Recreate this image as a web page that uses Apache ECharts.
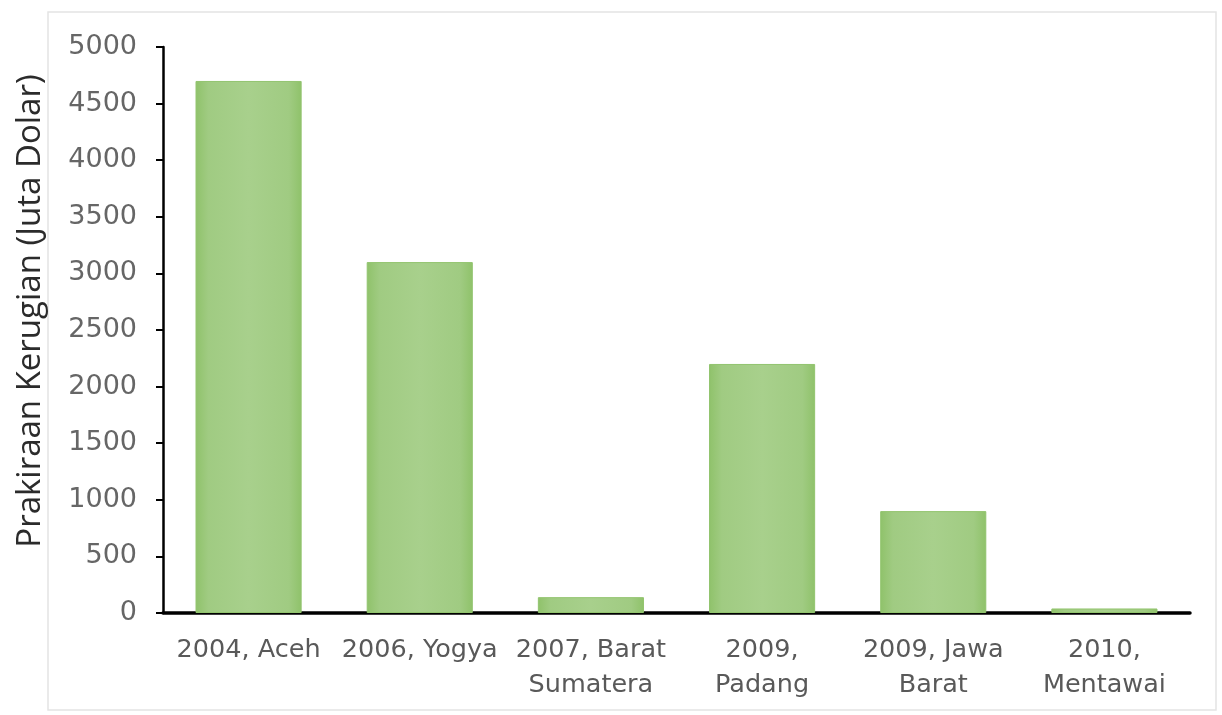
<!DOCTYPE html>
<html>
<head>
<meta charset="utf-8">
<script src="https://cdn.jsdelivr.net/npm/echarts@6/dist/echarts.min.js"></script>
<style>html,body{margin:0;padding:0;background:#fff;}#c{width:1222px;height:715px;}</style>
</head>
<body>
<div id="c"></div>
<script>
const categories = ['2004, Aceh', '2006, Yogya', '2007, Barat\nSumatera', '2009,\nPadang', '2009, Jawa\nBarat', '2010,\nMentawai'];
const lossValues = [4700, 3100, 140, 2200, 900, 40];
const yTicks = { min: 0, max: 5000, interval: 500 };
const yAxisTitle = 'Prakiraan Kerugian (Juta Dolar)';

const chart = echarts.init(document.getElementById('c'));
const barGradient = new echarts.graphic.LinearGradient(0, 0, 1, 0, [
  { offset: 0, color: '#8fc26a' },
  { offset: 0.12, color: '#a0cb82' },
  { offset: 0.5, color: '#a8d08c' },
  { offset: 0.88, color: '#a0cb82' },
  { offset: 1, color: '#8fc26a' }
]);
chart.setOption({
  backgroundColor: '#ffffff',
  animation: false,
  graphic: [{
    type: 'rect',
    shape: { x: 48, y: 12, width: 1168, height: 698 },
    style: { fill: 'none', stroke: '#e4e4e4', lineWidth: 1.5 },
    silent: true, z: -1
  }, {
    type: 'text',
    x: 31, y: 311,
    rotation: Math.PI / 2,
    style: {
      text: yAxisTitle,
      fill: '#2b2b2b',
      font: '33px "Open Sans"',
      align: 'center',
      verticalAlign: 'middle'
    },
    silent: true
  }],
  grid: { left: 163, right: 32, top: 47, bottom: 102 },
  xAxis: {
    type: 'category',
    data: categories,
    axisLine: { lineStyle: { color: '#000', width: 3.5 } },
    axisTick: { show: false },
    axisLabel: { color: '#595959', fontSize: 25.5, fontFamily: 'DejaVu Sans', margin: 20, lineHeight: 35, interval: 0 }
  },
  yAxis: {
    type: 'value',
    min: yTicks.min, max: yTicks.max, interval: yTicks.interval,
    axisLine: { show: true, lineStyle: { color: '#000', width: 2.5 } },
    axisTick: { show: true, length: 7, lineStyle: { color: '#000', width: 2 } },
    axisLabel: { color: '#666666', fontSize: 27, fontFamily: 'DejaVu Sans', margin: 26, formatter: function (v) { return String(v); } },
    splitLine: { show: false }
  },
  series: [{
    type: 'bar',
    data: lossValues,
    barCategoryGap: '38%',
    itemStyle: { color: barGradient, borderColor: '#92c46e', borderWidth: 1 }
  }]
});
</script>
</body>
</html>
